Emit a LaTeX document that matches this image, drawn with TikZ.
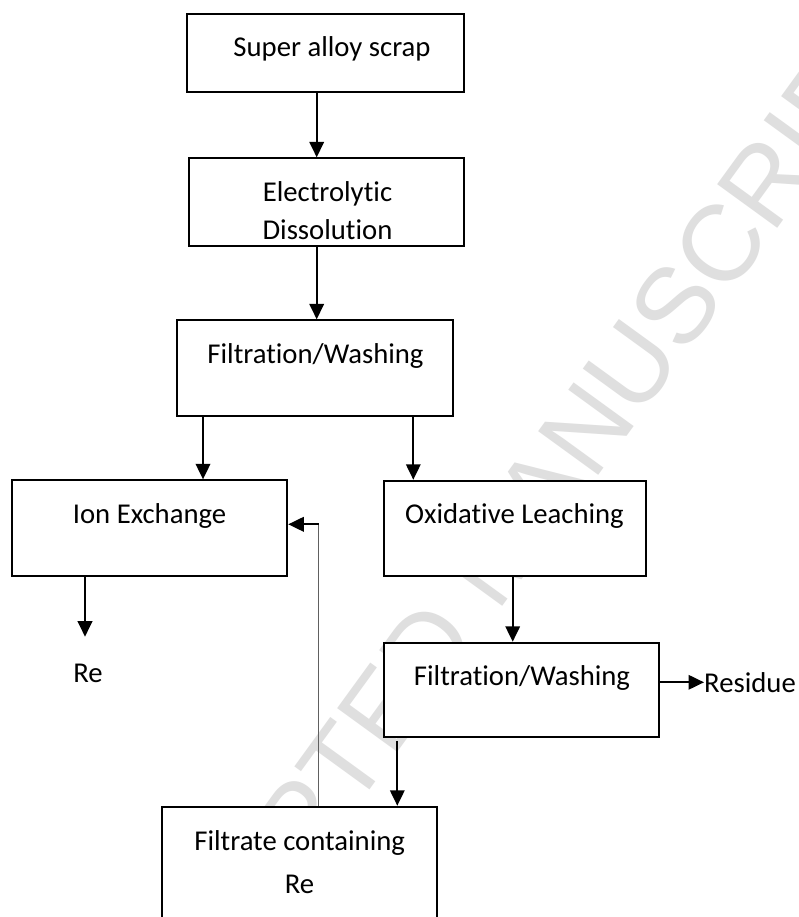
\documentclass[tikz,border=0pt]{standalone}
\usepackage{fontspec}
\setmainfont{Carlito}[Ligatures=NoCommon]
\newfontfamily\wmfont{Liberation Sans}
\usetikzlibrary{arrows.meta}
\begin{document}
\begin{tikzpicture}[x=1pt,y=-1pt,
  box/.style={draw=black, line width=1.9pt, fill=white, rectangle, inner sep=0pt},
  lbl/.style={anchor=base, inner sep=0pt, font=\fontsize{28.7}{34}\selectfont},
  arr/.style={line width=2pt, -{Triangle[length=15.5pt,width=14.5pt]}},
  fbline/.style={draw=gray!75!black, line width=1.2pt},
  wm/.style={text=gray!25, font=\wmfont\fontsize{108}{108}\selectfont, rotate=54, inner sep=0pt}]
\useasboundingbox (0,0) rectangle (798,917);
\clip (0,0) rectangle (798,917);
\fill[white] (0,0) rectangle (798,917);
% watermark
\node[wm] (wmark) at (496,553) {ACCEPTED MANUSCRIPT};
% boxes
\node[box, minimum width=277pt, minimum height=78pt] (scrap) at (325.5,53) {};
\node[box, minimum width=275pt, minimum height=87.4pt] (electro) at (326.8,202) {};
\node[box, minimum width=275.7pt, minimum height=95.4pt] (filt1) at (314.85,368) {};
\node[box, minimum width=275.6pt, minimum height=95.7pt] (ion) at (149.5,528.15) {};
\node[box, minimum width=261.7pt, minimum height=95.3pt] (oxid) at (514.85,528.35) {};
\node[box, minimum width=275.3pt, minimum height=94.6pt] (filt2) at (521.65,690) {};
\node[box, minimum width=275pt, minimum height=123.3pt] (filtrate) at (299.2,868.35) {};
% texts
\node[lbl] (t1) at (332,57) {Super alloy scrap};
\node[lbl] (t2a) at (327.5,201.7) {Electrolytic};
\node[lbl] (t2b) at (327.5,240) {Dissolution};
\node[lbl] (t3) at (315.5,363.3) {Filtration/Washing};
\node[lbl] (t4) at (149.5,523.3) {Ion Exchange};
\node[lbl] (t5) at (514.5,523.3) {Oxidative Leaching};
\node[lbl] (t6) at (522,685) {Filtration/Washing};
\node[lbl, anchor=base west] (res) at (704,692.7) {Residue};
\node[lbl] (reL) at (88,682.7) {Re};
\node[lbl] (t7a) at (299.7,850) {Filtrate containing};
\node[lbl] (t7b) at (299.5,893.3) {Re};
% connectors
\draw[arr] ([xshift=-8.8pt]scrap.south) coordinate (s1) -- (s1 |- electro.north);
\draw[arr] ([xshift=-10.1pt]electro.south) coordinate (s2) -- (s2 |- filt1.north);
\draw[arr] ([xshift=-111.85pt]filt1.south) coordinate (s3) -- (s3 |- ion.north);
\draw[arr] ([xshift=98.45pt]filt1.south) coordinate (s4) -- (s4 |- oxid.north);
\coordinate (reTip) at (85,636.7);
\draw[arr] (ion.south -| reTip) -- (reTip);
\draw[arr] ([xshift=-2.15pt]oxid.south) coordinate (s6) -- (s6 |- filt2.north);
\draw[arr] ([yshift=7.7pt]filt2.east) coordinate (s7) -- (s7 -| res.west);
\draw[arr] ([xshift=-124.35pt,yshift=-2.7pt]filt2.south) coordinate (s8) -- (s8 |- filtrate.north);
\coordinate (fbk) at (318.5,524.3);
\draw[fbline] (filtrate.north -| fbk) -- (fbk);
\draw[arr] (fbk) -- (fbk -| ion.east);
\end{tikzpicture}
\end{document}
